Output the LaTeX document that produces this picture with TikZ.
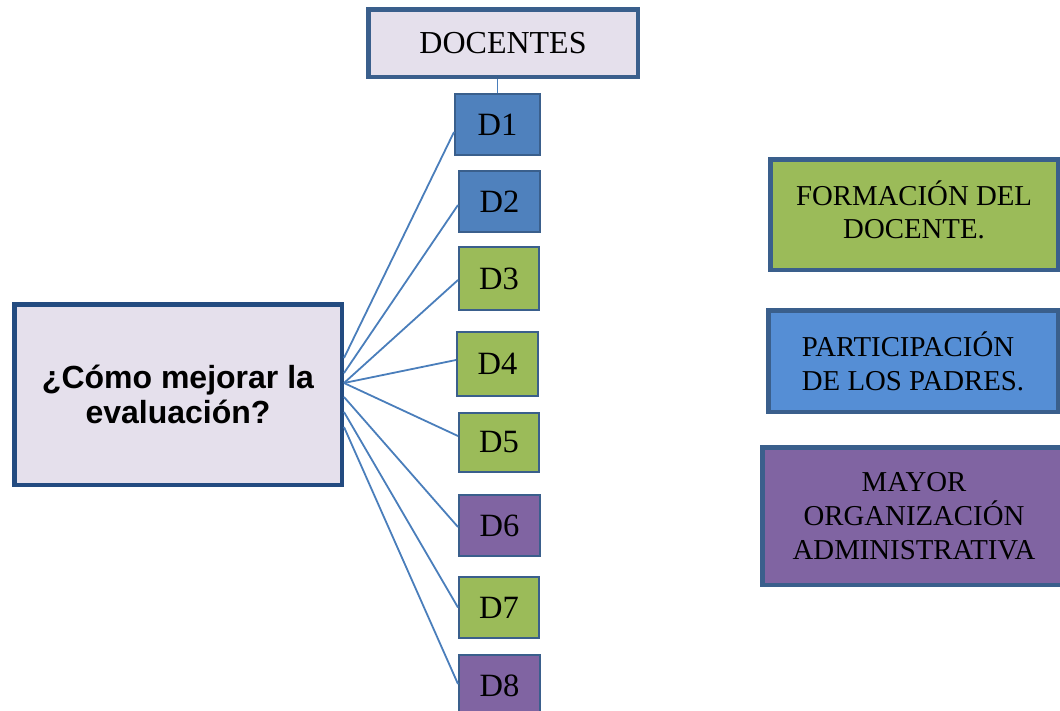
\documentclass[tikz,border=0pt]{standalone}
\usepackage{fontspec}
\setmainfont{Liberation Serif}
\newfontfamily\arialfont{Liberation Sans}
\definecolor{lav}{HTML}{E5E0EC}
\definecolor{bordc}{HTML}{3A5F8C}
\definecolor{mainbord}{HTML}{234B80}
\definecolor{dblue}{HTML}{4F81BD}
\definecolor{dgreen}{HTML}{9BBB59}
\definecolor{dpurple}{HTML}{8064A2}
\definecolor{pblue}{HTML}{558ED5}
\definecolor{linec}{HTML}{4A7EBB}
\begin{document}
\begin{tikzpicture}[x=1pt,y=-1pt,
  dbox/.style={draw=bordc, line width=2.2pt, inner sep=0pt,
    font=\fontsize{32.5}{36}\selectfont},
  bigbox/.style={draw=bordc, line width=4.5pt, inner sep=0pt, align=center,
    font=\fontsize{28.8}{34}\selectfont},
  link/.style={draw=linec, line width=1.8pt}]
\useasboundingbox (0,0) rectangle (1060,710);

% title box
\node[draw=bordc, line width=4.5pt, fill=lav, inner sep=0pt,
  minimum width=269.5pt, minimum height=67.5pt,
  font=\fontsize{32}{36}\selectfont] (DOC) at (503,43) {DOCENTES};

% question box
\node[draw=mainbord, line width=4.5pt, fill=lav, inner sep=0pt,
  minimum width=327.5pt, minimum height=180.5pt, align=center,
  font=\arialfont\bfseries\fontsize{32}{35}\selectfont] (Q) at (178,394.5)
  {¿Cómo mejorar la\\evaluación?};

% D boxes
\node[dbox, fill=dblue,   minimum width=84.8pt, minimum height=60.8pt] (D1) at (497.5,124.5) {D1};
\node[dbox, fill=dblue,   minimum width=80.8pt, minimum height=60.8pt] (D2) at (499.5,201.5) {D2};
\node[dbox, fill=dgreen,  minimum width=79.8pt, minimum height=62.8pt] (D3) at (499,278.5) {D3};
\node[dbox, fill=dgreen,  minimum width=80.8pt, minimum height=63.8pt] (D4) at (497.5,364) {D4};
\node[dbox, fill=dgreen,  minimum width=79.8pt, minimum height=58.8pt] (D5) at (499,442.5) {D5};
\node[dbox, fill=dpurple, minimum width=80.8pt, minimum height=60.8pt] (D6) at (499.5,525.5) {D6};
\node[dbox, fill=dgreen,  minimum width=79.8pt, minimum height=60.8pt] (D7) at (499,607.5) {D7};
\node[dbox, fill=dpurple, minimum width=80.8pt, minimum height=60.8pt] (D8) at (499.5,685.5) {D8};

% right boxes
\node[bigbox, fill=dgreen, minimum width=287.5pt, minimum height=110.5pt] (F) at (914,214.5)
  {\raisebox{7pt}{\begin{tabular}{@{}c@{}}FORMACIÓN DEL\\[-1pt]DOCENTE.\end{tabular}}};
\node[bigbox, fill=pblue, align=left, minimum width=289.5pt, minimum height=101.5pt] (P) at (913,361)
  {PARTICIPACIÓN\\DE LOS PADRES.};
\node[bigbox, fill=dpurple, minimum width=303.5pt, minimum height=137.5pt] (M) at (914,516)
  {MAYOR\\ORGANIZACIÓN\\ADMINISTRATIVA};

% connectors
\draw[link] (D1.north) -- (D1.north |- DOC.south);
\draw[link] ([yshift=36.5pt]Q.east) -- ([yshift=-7.5pt]D1.west);
\draw[link] ([yshift=21.5pt]Q.east) -- ([yshift=-3.5pt]D2.west);
\draw[link] ([yshift=11.5pt]Q.east) -- ([yshift=-1.5pt]D3.west);
\draw[link] ([yshift=11.5pt]Q.east) -- ([yshift=4pt]D4.west);
\draw[link] ([yshift=11.5pt]Q.east) -- ([yshift=6.5pt]D5.west);
\draw[link] ([yshift=-2.5pt]Q.east) -- ([yshift=-1.5pt]D6.west);
\draw[link] ([yshift=-17.5pt]Q.east) -- (D7.west);
\draw[link] ([yshift=-32.5pt]Q.east) -- ([yshift=1.5pt]D8.west);
\end{tikzpicture}
\end{document}
